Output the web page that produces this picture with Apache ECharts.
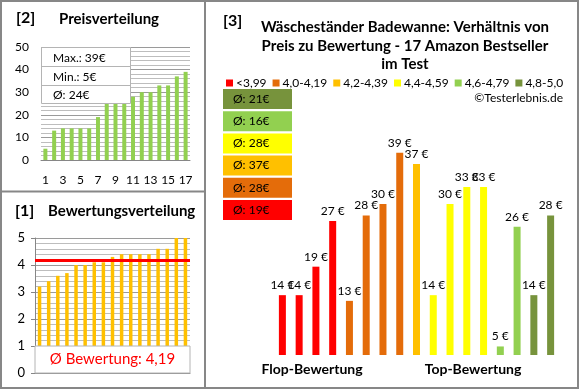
<!DOCTYPE html>
<html><head><meta charset="utf-8">
<script src="https://cdn.jsdelivr.net/npm/echarts@6/dist/echarts.min.js"></script>
<style>html,body{margin:0;padding:0;background:#fff}#c{width:580px;height:390px}</style>
</head><body><div id="c"></div>
<script>
const FONT = 'Lato';
// Panel [2]: Preisverteilung (sorted prices, rank 1..17)
const priceRanks = ['1','2','3','4','5','6','7','8','9','10','11','12','13','14','15','16','17'];
const priceSorted = [5,13,14,14,14,14,19,26,27,28,28,30,30,33,33,37,39];
const priceTicks = [0,10,20,30,40,50];
// Panel [1]: Bewertungsverteilung (sorted ratings)
const ratingSorted = [3.2,3.4,3.6,3.7,4.0,4.0,4.1,4.1,4.3,4.4,4.4,4.4,4.4,4.6,4.6,5.0,5.0];
const ratingTicks = [0,1,2,3,4,5];
// Panel [3]: products ordered from flop to top rating
const productPrices = [14,14,19,27,13,28,30,39,37,14,30,33,33,5,26,14,28];
const productGroup  = [0,0,0,0,1,1,1,1,2,3,3,3,3,4,4,5,5];
const groupNames  = ['<3,99','4,0-4,19','4,2-4,39','4,4-4,59','4,6-4,79','4,8-5,0'];
const groupColors = ['#FF0000','#E46C0A','#FFC000','#FFFF00','#92D050','#77933C'];

const pMax = Math.max(...priceSorted), pMin = Math.min(...priceSorted);
const pAvg = Math.round(priceSorted.reduce((a,b)=>a+b,0)/priceSorted.length);
const rAvg = ratingSorted.reduce((a,b)=>a+b,0)/ratingSorted.length;
const rAvgTxt = rAvg.toFixed(2).replace('.', ',');
const groupAvg = groupNames.map((_,g)=>{
  const v = productPrices.filter((p,i)=>productGroup[i]===g);
  return Math.round(v.reduce((a,b)=>a+b,0)/v.length);
});

const chart = echarts.init(document.getElementById('c'));
const BORDER = '#878787';
function txt(x,y,t,size,opt){
  return {type:'text', x:x, y:y, z:50, style:Object.assign({text:t, font:(opt&&opt.bold?'bold ':'')+size+'px '+FONT, fill:'#000', textAlign:'left', textVerticalAlign:'middle'}, opt&&opt.style||{})};
}
const graphics = [
  {type:'rect', shape:{x:1,y:1,width:577,height:387}, style:{fill:'none', stroke:BORDER, lineWidth:2}, z:40},
  {type:'line', shape:{x1:205,y1:1,x2:205,y2:388}, style:{stroke:BORDER, lineWidth:2}, z:40},
  {type:'line', shape:{x1:1,y1:191.5,x2:205,y2:191.5}, style:{stroke:BORDER, lineWidth:2}, z:40},
  txt(16,18,'[2]',16,{bold:true}),
  txt(59,19,'Preisverteilung',15,{bold:true}),
  txt(15,211,'[1]',16,{bold:true}),
  txt(48,211,'Bewertungsverteilung',15,{bold:true}),
  txt(223,21,'[3]',16,{bold:true}),
  txt(405,27,'Wäscheständer Badewanne: Verhältnis von',15,{bold:true,style:{textAlign:'center'}}),
  txt(405,46,'Preis zu Bewertung - 17 Amazon Bestseller',15,{bold:true,style:{textAlign:'center'}}),
  txt(405,64,'im Test',15,{bold:true,style:{textAlign:'center'}}),
  txt(563,98,'©Testerlebnis.de',12,{style:{textAlign:'right'}}),
  txt(312,369,'Flop-Bewertung',14,{bold:true,style:{textAlign:'center'}}),
  txt(473,369,'Top-Bewertung',14,{bold:true,style:{textAlign:'center'}}),
  // info box in panel [2]
  {type:'rect', shape:{x:41.5,y:47.5,width:89,height:56}, style:{fill:'#fff', stroke:'#b4b4b4', lineWidth:1}, z:45},
  {type:'line', shape:{x1:41.5,y1:66.5,x2:130.5,y2:66.5}, style:{stroke:'#b4b4b4', lineWidth:1}, z:45},
  {type:'line', shape:{x1:41.5,y1:85.5,x2:130.5,y2:85.5}, style:{stroke:'#b4b4b4', lineWidth:1}, z:45},
  txt(53,58,'Max.: '+pMax+'€',12),
  txt(53,77,'Min.: '+pMin+'€',12),
  txt(53,95,'Ø: '+pAvg+'€',12)
];
// average boxes in panel [3], top = best group
for (let k=0;k<6;k++){
  const g = 5-k;
  const y = 89 + k*22.2;
  graphics.push({type:'rect', shape:{x:223,y:y,width:69,height:20}, style:{fill:groupColors[g]}, z:45});
  graphics.push(txt(233,y+10,'Ø: '+groupAvg[g]+'€',12));
}

const p3Series = groupNames.map((name,g)=>({
  type:'bar', name:name, xAxisIndex:2, yAxisIndex:2,
  data: productPrices.map((p,i)=>productGroup[i]===g ? p : '-'),
  barWidth:7, barGap:'-100%',
  itemStyle:{color:groupColors[g]},
  label:{show:true, position:'top', distance:4, formatter:'{c} €', fontFamily:FONT, fontSize:12, color:'#000'}
}));

chart.setOption({
  animation:false,
  textStyle:{fontFamily:FONT},
  grid:[
    {left:41, top:47, width:149, height:113},
    {left:35, top:238, width:155, height:135},
    {left:274, top:147, width:285, height:208}
  ],
  legend:{
    data:groupNames, left:221, top:72, width:356, icon:'rect', itemWidth:7, itemHeight:7, itemGap:6,
    textStyle:{fontFamily:FONT, fontSize:12, color:'#000', padding:[0,0,0,-2]}, selectedMode:false
  },
  xAxis:[
    {type:'category', gridIndex:0, data:priceRanks, axisTick:{show:false},
     axisLine:{lineStyle:{color:'#868686'}},
     axisLabel:{interval:1, margin:14, fontFamily:FONT, fontSize:12, color:'#000'}},
    {type:'category', gridIndex:1, data:priceRanks, axisTick:{show:false}, axisLabel:{show:false},
     axisLine:{lineStyle:{color:'#868686'}}},
    {type:'category', gridIndex:2, data:priceRanks, show:false}
  ],
  yAxis:[
    {type:'value', gridIndex:0, min:priceTicks[0], max:priceTicks[priceTicks.length-1], interval:10,
     axisLine:{show:false}, axisTick:{show:false},
     axisLabel:{margin:12, fontFamily:FONT, fontSize:12, color:'#000'},
     splitLine:{lineStyle:{color:'#9a9a9a'}},
     minorTick:{show:false, splitNumber:5}, minorSplitLine:{show:true, lineStyle:{color:'#bdbdbd'}}},
    {type:'value', gridIndex:1, min:ratingTicks[0], max:ratingTicks[ratingTicks.length-1], interval:1,
     axisLine:{show:true, lineStyle:{color:'#868686'}}, axisTick:{show:true, length:4, lineStyle:{color:'#868686'}},
     axisLabel:{margin:10, fontFamily:FONT, fontSize:13, color:'#000'},
     splitLine:{lineStyle:{color:'#9a9a9a'}},
     minorTick:{show:false, splitNumber:5}, minorSplitLine:{show:true, lineStyle:{color:'#bdbdbd'}}},
    {type:'value', gridIndex:2, min:3.5, max:40, show:false}
  ],
  series:[
    {type:'bar', xAxisIndex:0, yAxisIndex:0, data:priceSorted, barWidth:4, itemStyle:{color:'#92D050'}},
    {type:'bar', xAxisIndex:1, yAxisIndex:1, data:ratingSorted, barWidth:3.5, itemStyle:{color:'#FFC000'},
     markLine:{silent:true, symbol:'none', data:[{yAxis:rAvg}], label:{show:false},
       lineStyle:{color:'#FF0000', width:3, type:'solid'}},
     markArea:{silent:true, z:20, data:[[{yAxis:0},{yAxis:1}]],
       itemStyle:{color:'#fff', borderColor:'#b4b4b4', borderWidth:1},
       label:{show:true, position:'inside', formatter:'Ø Bewertung: '+rAvgTxt, color:'#FF0000', fontFamily:FONT, fontSize:15, fontWeight:'normal'}}
    },
    ...p3Series
  ],
  graphic:graphics
});
</script></body></html>
